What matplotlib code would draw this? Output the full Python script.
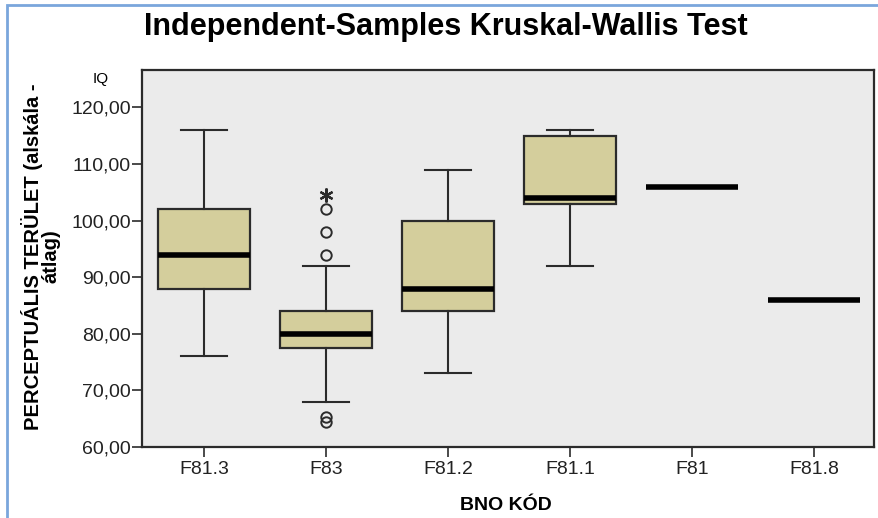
import matplotlib
matplotlib.use("Agg")
import matplotlib.pyplot as plt
from matplotlib.patches import Rectangle
from matplotlib.ticker import FuncFormatter

plt.rcParams['font.family'] = ['Liberation Sans', 'DejaVu Sans']

# Box statistics (IQ scale)
groups = ["F81.3", "F83", "F81.2", "F81.1", "F81", "F81.8"]
whislo = [76, 68, 73, 92, 106, 86]
q1 = [88, 77.5, 84, 103, 106, 86]
med = [94, 80, 88, 104, 106, 86]
q3 = [102, 84, 100, 115, 106, 86]
whishi = [116, 92, 109, 116, 106, 86]
outliers = [[], [94, 98, 102, 65.3, 64.4], [], [], [], []]
extremes = [[], [104.6], [], [], [], []]

box_color = '#d4ce9c'
bg_color = '#ebebeb'
line_color = '#2b2b2b'

stats = []
for i, g in enumerate(groups):
    stats.append({
        'label': g, 'whislo': whislo[i], 'q1': q1[i], 'med': med[i],
        'q3': q3[i], 'whishi': whishi[i], 'fliers': outliers[i],
    })

fig = plt.figure(figsize=(8.79, 5.18), dpi=100)
ax = fig.add_axes([0.1615, 0.137, 0.8328, 0.7279])
ax.set_facecolor(bg_color)

pos = list(range(1, len(groups) + 1))
ax.bxp(stats, positions=pos, widths=0.75, patch_artist=True,
       boxprops=dict(facecolor=box_color, edgecolor=line_color, linewidth=1.6),
       medianprops=dict(color='black', linewidth=4.0, solid_capstyle='butt'),
       whiskerprops=dict(color=line_color, linewidth=1.5),
       capprops=dict(color=line_color, linewidth=1.5),
       capwidths=0.38,
       flierprops=dict(marker='o', markersize=7.5, markerfacecolor='none',
                       markeredgecolor=line_color, markeredgewidth=1.4))

# extreme values drawn as asterisks
for i, ext in enumerate(extremes):
    if ext:
        ax.plot([pos[i]] * len(ext), ext, linestyle='none', marker=(6, 2, 0),
                markersize=10, markeredgewidth=1.6, color=line_color)

ax.set_xlim(0.49, 6.49)
ax.set_ylim(60, 126.6)
ax.set_yticks([60, 70, 80, 90, 100, 110, 120])
ax.yaxis.set_major_formatter(FuncFormatter(lambda v, p: f"{v:.2f}".replace('.', ',')))
ax.set_xticks(pos)
ax.set_xticklabels(groups)
ax.tick_params(axis='both', direction='out', length=7, width=1.2,
               color=line_color, labelsize=14, labelcolor='#222222')
ax.tick_params(axis='x', pad=3)
ax.tick_params(axis='y', pad=1)
for s in ax.spines.values():
    s.set_color(line_color)
    s.set_linewidth(1.6)

fig.text(0.507, 0.947, "Independent-Samples Kruskal-Wallis Test",
         ha='center', va='center', fontsize=22, fontweight='bold')
fig.text(0.575, 0.025, "BNO KÓD", ha='center', va='center',
         fontsize=14, fontweight='bold')
fig.text(0.046, 0.505, "PERCEPTUÁLIS TERÜLET (alskála -\nátlag)", rotation=90,
         ha='center', va='center', multialignment='center',
         fontsize=14.5, fontweight='bold', linespacing=0.9)
fig.text(0.114, 0.848, "IQ", ha='center', va='center', fontsize=11)

# light blue frame around the picture
fig.patches.append(Rectangle((7 / 879, -0.1), 1.2, 1 - 5 / 518 + 0.1,
                             transform=fig.transFigure, fill=False,
                             edgecolor='#7aa6dc', linewidth=2))

fig.savefig("out.png", dpi=100)
